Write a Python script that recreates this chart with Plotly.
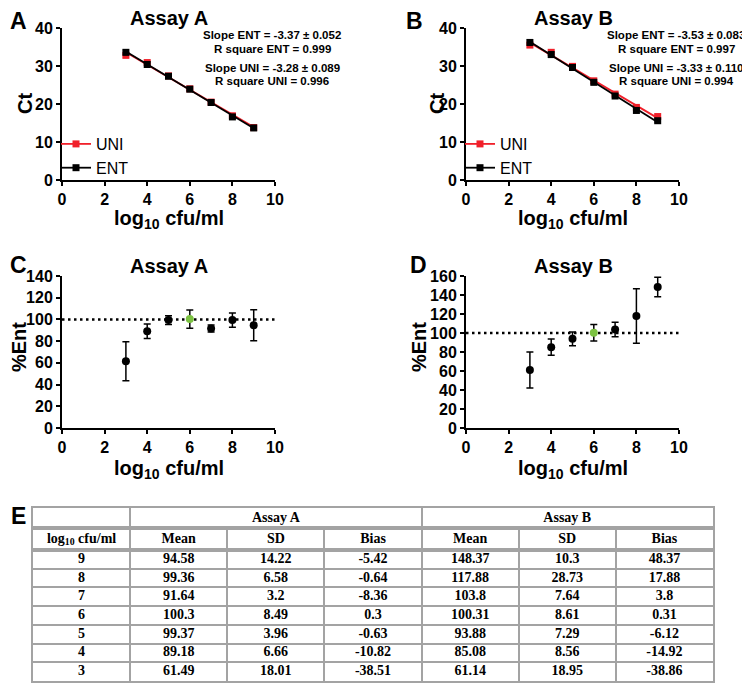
import numpy as np
import plotly.graph_objects as go

# ---------------- data ----------------
log_levels = [3, 4, 5, 6, 7, 8, 9]

# Panel A (Assay A) Ct values
a_ent_ct = [33.6, 30.4, 27.3, 23.9, 20.4, 16.6, 13.7]
a_ent_sd = [0.6, 0.6, 0.4, 0.4, 0.4, 0.4, 0.4]
a_uni_ct = [32.8, 30.9, 27.4, 24.0, 20.5, 16.9, 13.8]
a_uni_sd = [0.5, 0.6, 0.4, 0.4, 0.4, 0.4, 0.4]

# Panel B (Assay B) Ct values
b_ent_ct = [36.2, 33.0, 29.6, 25.7, 22.1, 18.3, 15.6]
b_ent_sd = [0.7, 0.7, 0.4, 0.4, 0.4, 0.5, 0.4]
b_uni_ct = [35.5, 33.6, 29.9, 26.1, 22.6, 19.1, 16.7]
b_uni_sd = [0.6, 0.6, 0.4, 0.4, 0.4, 0.4, 0.4]

slope_text_a = ["Slope ENT = -3.37 \u00b1 0.052", "R square ENT = 0.999",
                "Slope UNI = -3.28 \u00b1 0.089", "R square UNI = 0.996"]
slope_text_b = ["Slope ENT = -3.53 \u00b1 0.083", "R square ENT = 0.997",
                "Slope UNI = -3.33 \u00b1 0.110", "R square UNI = 0.994"]

# Table / panels C-D (rows ordered 9 -> 3)
table_levels = [9, 8, 7, 6, 5, 4, 3]
a_mean = [94.58, 99.36, 91.64, 100.3, 99.37, 89.18, 61.49]
a_sd = [14.22, 6.58, 3.2, 8.49, 3.96, 6.66, 18.01]
a_bias = [-5.42, -0.64, -8.36, 0.3, -0.63, -10.82, -38.51]
b_mean = [148.37, 117.88, 103.8, 100.31, 93.88, 85.08, 61.14]
b_sd = [10.3, 28.73, 7.64, 8.61, 7.29, 8.56, 18.95]
b_bias = [48.37, 17.88, 3.8, 0.31, -6.12, -14.92, -38.86]

table_group_headers = ["Assay A", "Assay B"]
table_col_headers = ["log<sub>10</sub> cfu/ml", "Mean", "SD", "Bias", "Mean", "SD", "Bias"]

reference_x = [0, 10]
reference_y = [100, 100]
reference_level = 6

x_ticks = [0, 2, 4, 6, 8, 10]

# ---------------- helpers ----------------
OFF = 8                      # page body margin
W, H = 750 - OFF, 684 - OFF
FONT = "Liberation Sans"
SERIF = "Liberation Serif"
RED = "#f0202a"
GREEN = "#7cc242"
GRID = "#a3a3a3"


def px(x):
    return (x - OFF) / W


def py(y):
    return 1 - (y - OFF) / H


fig = go.Figure()


def fit_line(x, y):
    k, b = np.polyfit(x, y, 1)
    xs = np.array([min(x), max(x)], dtype=float)
    return xs, k * xs + b


def add_curve(xa, ya, y, sd, color, name, legend):
    xs, ys = fit_line(log_levels, y)
    fig.add_trace(go.Scatter(x=xs, y=ys, mode="lines", line=dict(color=color, width=1.8),
                             xaxis=xa, yaxis=ya, showlegend=False, hoverinfo="skip"))
    fig.add_trace(go.Scatter(x=log_levels, y=y, mode="markers",
                             marker=dict(symbol="square", size=7, color=color),
                             error_y=dict(type="data", array=sd, color=color, thickness=1.3, width=3),
                             xaxis=xa, yaxis=ya, showlegend=False, name=name))
    # legend-only entry (no data drawn)
    fig.add_trace(go.Scatter(x=[None], y=[None], mode="lines+markers", name=name,
                             marker=dict(symbol="square", size=7, color=color),
                             line=dict(color=color, width=1.8),
                             xaxis=xa, yaxis=ya, legend=legend))


add_curve("x", "y", a_uni_ct, a_uni_sd, RED, "UNI", "legend")
add_curve("x", "y", a_ent_ct, a_ent_sd, "black", "ENT", "legend")
add_curve("x2", "y2", b_uni_ct, b_uni_sd, RED, "UNI", "legend2")
add_curve("x2", "y2", b_ent_ct, b_ent_sd, "black", "ENT", "legend2")


def add_pct(xa, ya, mean, sd):
    fig.add_trace(go.Scatter(x=reference_x, y=reference_y, mode="lines",
                             line=dict(color="black", width=2.5, dash="2.5px,3.5px"),
                             xaxis=xa, yaxis=ya, showlegend=False, hoverinfo="skip"))
    colors = [GREEN if v == reference_level else "black" for v in table_levels]
    fig.add_trace(go.Scatter(x=table_levels, y=mean, mode="markers",
                             marker=dict(symbol="circle", size=8, color=colors),
                             error_y=dict(type="data", array=sd, color="black", thickness=1.5, width=3.5),
                             xaxis=xa, yaxis=ya, showlegend=False))


add_pct("x3", "y3", a_mean, a_sd)
add_pct("x4", "y4", b_mean, b_sd)

# ---------------- table (text on grid-lined axes) ----------------
TFONT = dict(family=SERIF, size=14, color="black", weight="bold")
columns = [table_levels, a_mean, a_sd, a_bias, b_mean, b_sd, b_bias]
ncol = len(columns)
nrow = len(table_levels)
group_span = 3

# group header row
fig.add_trace(go.Scatter(
    x=[1 + group_span * i + group_span / 2 for i in range(len(table_group_headers))],
    y=[0.5] * len(table_group_headers), text=table_group_headers, mode="text",
    textfont=TFONT, textposition="middle center", xaxis="x5", yaxis="y5",
    showlegend=False, hoverinfo="skip"))

# column header row
fig.add_trace(go.Scatter(
    x=[j + 0.5 for j in range(ncol)], y=[0.5] * ncol, text=table_col_headers, mode="text",
    textfont=TFONT, textposition="middle center", xaxis="x6", yaxis="y6",
    showlegend=False, hoverinfo="skip"))

# body
tx, ty, tt = [], [], []
for j, col in enumerate(columns):
    for i, v in enumerate(col):
        tx.append(j + 0.5); ty.append(i + 0.5); tt.append(str(v))
fig.add_trace(go.Scatter(x=tx, y=ty, text=tt, mode="text", textfont=TFONT,
                         textposition="middle center", xaxis="x7", yaxis="y7",
                         showlegend=False, hoverinfo="skip"))

# ---------------- axes ----------------
tickfont = dict(family=FONT, size=16, color="black", weight="bold")


def xaxis_cfg(x0, x1, anchor):
    return dict(domain=[px(x0), px(x1)], anchor=anchor, range=[0, 10], tickvals=x_ticks,
                showline=True, linecolor="black", linewidth=2, ticks="outside", ticklen=4,
                tickwidth=2, tickcolor="black", showgrid=False, zeroline=False, tickfont=tickfont)


def yaxis_cfg(y0, y1, anchor, rng, dtick):
    return dict(domain=[py(y1), py(y0)], anchor=anchor, range=rng, dtick=dtick,
                showline=True, linecolor="black", linewidth=2, ticks="outside", ticklen=4,
                tickwidth=2, tickcolor="black", showgrid=False, zeroline=False, tickfont=tickfont)


def table_axis(domain, anchor, rng, grid_vals):
    return dict(domain=domain, anchor=anchor, range=rng, tickvals=grid_vals, showgrid=True,
                gridcolor=GRID, gridwidth=1.5, showticklabels=False, ticks="", zeroline=False,
                showline=True, mirror=True, linecolor=GRID, linewidth=2, fixedrange=True)


TX = [px(33), px(713)]
layout = dict(
    width=W, height=H, margin=dict(l=0, r=0, t=0, b=0),
    paper_bgcolor="white", plot_bgcolor="white", template="none",
    font=dict(family=FONT, color="black"),
    xaxis=xaxis_cfg(62, 275, "y"),
    yaxis=yaxis_cfg(28, 180, "x", [0, 40], 10),
    xaxis2=xaxis_cfg(466, 679, "y2"),
    yaxis2=yaxis_cfg(28, 180, "x2", [0, 40], 10),
    xaxis3=xaxis_cfg(62, 275, "y3"),
    yaxis3=yaxis_cfg(276, 428, "x3", [0, 140], 20),
    xaxis4=xaxis_cfg(466, 679, "y4"),
    yaxis4=yaxis_cfg(276, 428, "x4", [0, 160], 20),
    xaxis5=table_axis(TX, "y5", [0, ncol], [1 + group_span * i for i in range(len(table_group_headers))]),
    yaxis5=table_axis([py(528), py(508)], "x5", [1, 0], []),
    xaxis6=table_axis(TX, "y6", [0, ncol], list(range(1, ncol))),
    yaxis6=table_axis([py(550), py(528)], "x6", [1, 0], []),
    xaxis7=table_axis(TX, "y7", [0, ncol], list(range(1, ncol))),
    yaxis7=table_axis([py(681), py(550)], "x7", [nrow, 0], list(range(1, nrow))),
    legend=dict(x=px(56), y=py(127), xanchor="left", yanchor="top", bgcolor="rgba(0,0,0,0)",
                font=dict(family=FONT, size=16, color="black"), tracegroupgap=0, itemwidth=30),
    legend2=dict(x=px(460), y=py(127), xanchor="left", yanchor="top", bgcolor="rgba(0,0,0,0)",
                 font=dict(family=FONT, size=16, color="black"), tracegroupgap=0, itemwidth=30),
    showlegend=True,
)
fig.update_layout(**layout)

# ---------------- annotations ----------------
anns = []


def ann(text, x, y, size, angle=0):
    anns.append(dict(text=text, x=px(x), y=py(y), xref="paper", yref="paper", showarrow=False,
                     xanchor="center", yanchor="middle", textangle=angle,
                     font=dict(family=FONT, size=size, color="black", weight="bold")))


# panel letters
for lbl, x, y in [("A", 18, 21), ("B", 414, 21), ("C", 18, 265), ("D", 418, 265), ("E", 18, 516)]:
    ann(lbl, x, y, 23)
# panel titles
for t, x, y in [("Assay A", 169, 18), ("Assay B", 573, 18), ("Assay A", 169, 266), ("Assay B", 573, 266)]:
    ann(t, x, y, 20)
# axis titles
for x, y in [(169, 219), (573, 219), (169, 469), (573, 469)]:
    ann("log<sub>10</sub> cfu/ml", x, y, 20)
for t, x, y in [("Ct", 25, 104), ("Ct", 437, 104), ("%Ent", 19, 347), ("%Ent", 419, 347)]:
    ann(t, x, y, 20, -90)
# fit statistics
for t, y in zip(slope_text_a, [35, 49, 68, 81]):
    ann(t, 272, y, 11.5)
for t, y in zip(slope_text_b, [35, 49, 68, 81]):
    ann(t, 676, y, 11.5)
fig.update_layout(annotations=anns)

fig.write_html("out.html")
